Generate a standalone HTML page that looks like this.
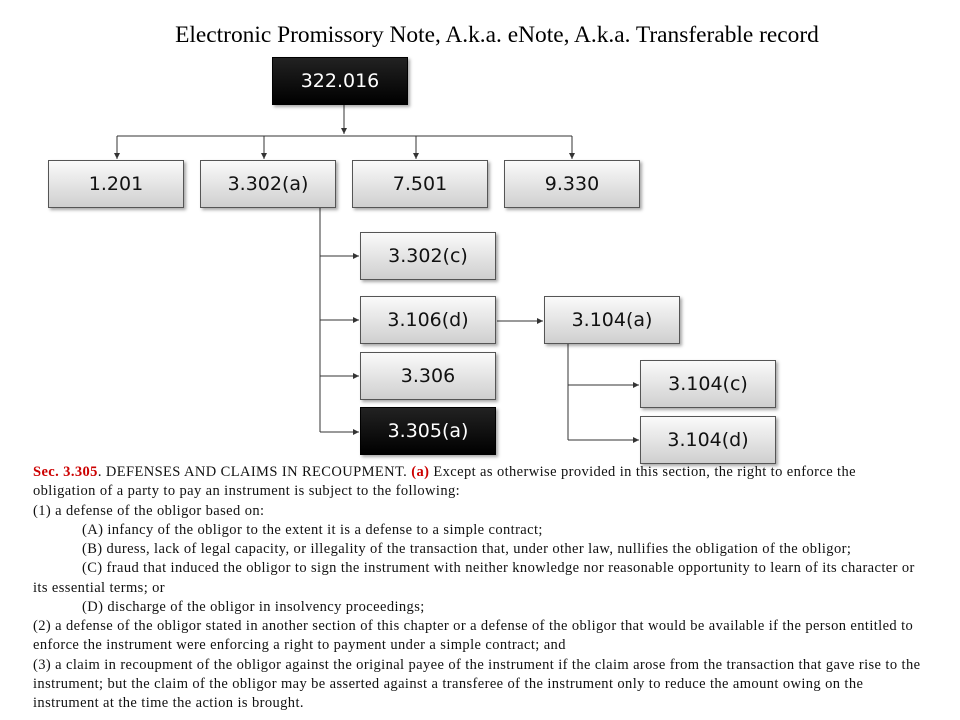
<!DOCTYPE html>
<html><head><style>
body{margin:0;width:960px;height:720px;background:#fff;position:relative;overflow:hidden;font-family:"Liberation Sans",sans-serif}
.b{position:absolute;width:136px;height:48px;box-sizing:border-box;border:1px solid #555;background:linear-gradient(#fafafa,#cfcfcf);box-shadow:2px 2px 3px rgba(0,0,0,.35);font-family:"DejaVu Sans",sans-serif;font-size:19px;display:flex;align-items:center;justify-content:center;color:#111}
.k{background:linear-gradient(#222,#000);color:#fff;border-color:#000}
.t{position:absolute;left:0;top:0;width:960px;font-family:"Liberation Serif",serif;font-size:23.4px;text-align:center;padding-left:34px;box-sizing:border-box;top:22px}
.tx{position:absolute;left:33px;top:463px;width:920px;font-family:"Liberation Serif",serif;font-size:14.5px;letter-spacing:0.4px;line-height:19.25px;color:#111}
.tx div{white-space:nowrap}
.i{padding-left:49px}
.r{color:#c00;font-weight:bold}
</style></head><body>
<div class="t">Electronic Promissory Note, A.k.a. eNote, A.k.a. Transferable record</div>
<svg width="960" height="720" style="position:absolute;left:0;top:0">
<defs><marker id="a" markerWidth="6" markerHeight="6" refX="6" refY="3" orient="auto"><path d="M0,0 L6,3 L0,6 z" fill="#333"/></marker></defs>
<g stroke="#333" stroke-width="1" fill="none">
<line x1="344" y1="102" x2="344" y2="134" marker-end="url(#a)"/>
<line x1="117" y1="136" x2="572" y2="136"/>
<line x1="117" y1="136" x2="117" y2="159" marker-end="url(#a)"/>
<line x1="264" y1="136" x2="264" y2="159" marker-end="url(#a)"/>
<line x1="416" y1="136" x2="416" y2="159" marker-end="url(#a)"/>
<line x1="572" y1="136" x2="572" y2="159" marker-end="url(#a)"/>
<line x1="320" y1="208" x2="320" y2="432"/>
<line x1="320" y1="256" x2="359" y2="256" marker-end="url(#a)"/>
<line x1="320" y1="320" x2="359" y2="320" marker-end="url(#a)"/>
<line x1="320" y1="376" x2="359" y2="376" marker-end="url(#a)"/>
<line x1="320" y1="432" x2="359" y2="432" marker-end="url(#a)"/>
<line x1="497" y1="321" x2="543" y2="321" marker-end="url(#a)"/>
<line x1="568" y1="344" x2="568" y2="440"/>
<line x1="568" y1="385" x2="639" y2="385" marker-end="url(#a)"/>
<line x1="568" y1="440" x2="639" y2="440" marker-end="url(#a)"/>
</g></svg>
<div class="b k" style="left:272px;top:57px">322.016</div>
<div class="b" style="left:48px;top:160px">1.201</div>
<div class="b" style="left:200px;top:160px">3.302(a)</div>
<div class="b" style="left:352px;top:160px">7.501</div>
<div class="b" style="left:504px;top:160px">9.330</div>
<div class="b" style="left:360px;top:232px">3.302(c)</div>
<div class="b" style="left:360px;top:296px">3.106(d)</div>
<div class="b" style="left:360px;top:352px">3.306</div>
<div class="b k" style="left:360px;top:407px">3.305(a)</div>
<div class="b" style="left:544px;top:296px">3.104(a)</div>
<div class="b" style="left:640px;top:360px">3.104(c)</div>
<div class="b" style="left:640px;top:416px">3.104(d)</div>
<div class="tx">
<div><span class="r">Sec. 3.305</span>. DEFENSES AND CLAIMS IN RECOUPMENT. <span class="r">(a)</span> Except as otherwise provided in this section, the right to enforce the</div>
<div>obligation of a party to pay an instrument is subject to the following:</div>
<div>(1) a defense of the obligor based on:</div>
<div class="i">(A) infancy of the obligor to the extent it is a defense to a simple contract;</div>
<div class="i">(B) duress, lack of legal capacity, or illegality of the transaction that, under other law, nullifies the obligation of the obligor;</div>
<div class="i">(C) fraud that induced the obligor to sign the instrument with neither knowledge nor reasonable opportunity to learn of its character or</div>
<div>its essential terms; or</div>
<div class="i">(D) discharge of the obligor in insolvency proceedings;</div>
<div>(2) a defense of the obligor stated in another section of this chapter or a defense of the obligor that would be available if the person entitled to</div>
<div>enforce the instrument were enforcing a right to payment under a simple contract; and</div>
<div>(3) a claim in recoupment of the obligor against the original payee of the instrument if the claim arose from the transaction that gave rise to the</div>
<div>instrument; but the claim of the obligor may be asserted against a transferee of the instrument only to reduce the amount owing on the</div>
<div>instrument at the time the action is brought.</div>
</div>
</body></html>
